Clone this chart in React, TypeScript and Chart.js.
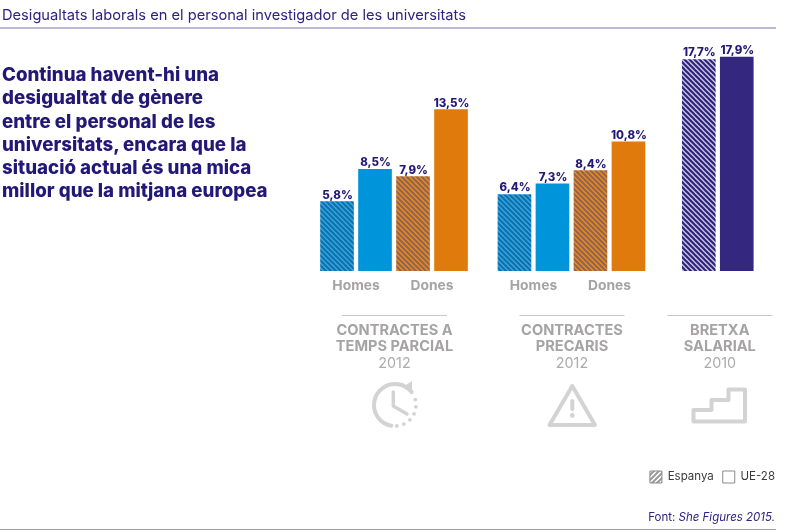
import React, { useEffect, useRef } from "react";
import { Chart, registerables } from "chart.js";

Chart.register(...registerables);

const titleText = "Desigualtats laborals en el personal investigador de les universitats";
const headingLines = [
  "Continua havent-hi una",
  "desigualtat de gènere",
  "entre el personal de les",
  "universitats, encara que la",
  "situació actual és una mica",
  "millor que la mitjana europea",
];
const barCategories = ["Homes", "Dones", "Homes", "Dones", ""];
const espanya = [5.8, 7.9, 6.4, 8.4, 17.7];
const ue28 = [8.5, 13.5, 7.3, 10.8, 17.9];
const groupTitles = [
  ["CONTRACTES A", "TEMPS PARCIAL"],
  ["CONTRACTES", "PRECARIS"],
  ["BRETXA", "SALARIAL"],
];
const groupYears = ["2012", "2012", "2010"];
const seriesNames = ["Espanya", "UE-28"];

const NAVY = "#221878";
const GREY = "#a6a3a5";
const ICON = "#d3d3d4";
const FONT = "Inter, 'Liberation Sans', sans-serif";
const solid = ["#0095da", "#e17a0c", "#0095da", "#e17a0c", "#33277f"];
const hatchPairs = [
  ["#35a4e0", "#0c70ab"],
  ["#ea8a20", "#8f6450"],
  ["#35a4e0", "#0c70ab"],
  ["#ea8a20", "#8f6450"],
  ["#c4c0de", "#2b2079"],
];

// Bars sit one slot apart; extra slot space separates the three groups.
const groupOf = [0, 0, 1, 1, 2];
const groupGap = [0, 0.67, 1.52];
const slotOf = (i: number) => i * 2 + groupGap[groupOf[i]];

function hatch(light: string, dark: string, rising = false): CanvasPattern {
  const size = 5;
  const c = document.createElement("canvas");
  c.width = size;
  c.height = size;
  const g = c.getContext("2d")!;
  g.fillStyle = light;
  g.fillRect(0, 0, size, size);
  g.strokeStyle = dark;
  g.lineWidth = 2;
  if (rising) {
    g.translate(size, 0);
    g.scale(-1, 1);
  }
  for (const o of [-size, 0, size]) {
    g.beginPath();
    g.moveTo(o - 1, -1);
    g.lineTo(o + size + 1, size + 1);
    g.stroke();
  }
  return g.createPattern(c, "repeat")!;
}

const decorations = {
  id: "decorations",
  afterDatasetsDraw(chart: any) {
    const { ctx, scales } = chart;
    const x = scales.x;
    ctx.save();
    ctx.textAlign = "center";
    ctx.textBaseline = "middle";

    // value labels
    ctx.fillStyle = NAVY;
    ctx.font = `800 11.5px ${FONT}`;
    chart.data.datasets.forEach((ds: any, d: number) => {
      chart.getDatasetMeta(d).data.forEach((bar: any, i: number) => {
        const v = String(ds.data[i].y).replace(".", ",") + "%";
        ctx.fillText(v, bar.x + 0.5, bar.y - 6.5);
      });
    });

    // group captions
    groupTitles.forEach((lines, g) => {
      const members = barCategories.map((_, i) => i).filter((i) => groupOf[i] === g);
      const first = slotOf(members[0]);
      const last = slotOf(members[members.length - 1]) + 1;
      const cx = x.getPixelForValue((first + last) / 2) + (g === 2 ? 2 : 0.5);
      ctx.strokeStyle = "#c9c7c9";
      ctx.lineWidth = 1;
      ctx.beginPath();
      ctx.moveTo(cx - 52.5, 315.5);
      ctx.lineTo(cx + 52.5, 315.5);
      ctx.stroke();
      ctx.fillStyle = GREY;
      ctx.font = `700 14.6px ${FONT}`;
      ctx.fillText(lines[0], cx, 331);
      ctx.fillText(lines[1], cx, 347);
      ctx.fillStyle = "#adabad";
      ctx.font = `400 14.3px ${FONT}`;
      ctx.fillText(groupYears[g], cx, 364);
    });

    // icons
    ctx.strokeStyle = ICON;
    ctx.fillStyle = ICON;
    ctx.lineWidth = 4;
    ctx.lineCap = "round";
    ctx.lineJoin = "round";

    ctx.beginPath();
    ctx.arc(395, 405, 21, (100 * Math.PI) / 180, (-38 * Math.PI) / 180);
    ctx.stroke();
    ctx.beginPath();
    ctx.moveTo(403, 387);
    ctx.lineTo(412, 390);
    ctx.lineTo(412, 381);
    ctx.closePath();
    ctx.fill();
    for (const a of [-15, 5, 25, 45, 65, 85]) {
      ctx.beginPath();
      ctx.arc(395 + 21 * Math.cos((a * Math.PI) / 180), 405 + 21 * Math.sin((a * Math.PI) / 180), 1.9, 0, Math.PI * 2);
      ctx.fill();
    }
    ctx.lineWidth = 3.5;
    ctx.beginPath();
    ctx.moveTo(393.3, 392);
    ctx.lineTo(393.3, 406);
    ctx.lineTo(407, 414);
    ctx.stroke();

    ctx.lineWidth = 4;
    ctx.beginPath();
    ctx.moveTo(572.3, 386);
    ctx.lineTo(549.5, 425);
    ctx.lineTo(595, 425);
    ctx.closePath();
    ctx.stroke();
    ctx.beginPath();
    ctx.moveTo(572.3, 401);
    ctx.lineTo(572.3, 409);
    ctx.stroke();
    ctx.beginPath();
    ctx.arc(572.3, 415.5, 2.4, 0, Math.PI * 2);
    ctx.fill();

    ctx.beginPath();
    ctx.moveTo(693.5, 421.5);
    ctx.lineTo(693.5, 410);
    ctx.lineTo(711.5, 410);
    ctx.lineTo(711.5, 400);
    ctx.lineTo(728.5, 400);
    ctx.lineTo(728.5, 389.5);
    ctx.lineTo(745, 389.5);
    ctx.lineTo(745, 421.5);
    ctx.closePath();
    ctx.stroke();
    ctx.restore();
  },
};

export default function App() {
  const ref = useRef<HTMLCanvasElement>(null);

  useEffect(() => {
    document.body.style.margin = "0";
    const patterns = hatchPairs.map(([a, b]) => hatch(a, b));
    const legendHatch = hatch("#ffffff", "#9a989a", true);
    const tickSlots = barCategories
      .map((name, i) => ({ name, value: slotOf(i) + 0.5 }))
      .filter((t) => t.name);

    const chart = new Chart(ref.current!, {
      type: "bar",
      data: {
        datasets: [
          {
            label: seriesNames[0],
            data: espanya.map((y, i) => ({ x: slotOf(i), y })),
            backgroundColor: patterns,
            borderWidth: 0,
            barThickness: 33,
            grouped: false,
          },
          {
            label: seriesNames[1],
            data: ue28.map((y, i) => ({ x: slotOf(i) + 1, y })),
            backgroundColor: solid,
            borderWidth: 0,
            barThickness: 33,
            grouped: false,
          },
        ],
      } as any,
      options: {
        responsive: false,
        animation: false,
        layout: { padding: { left: 300, right: 16, top: 32, bottom: 37 } },
        scales: {
          x: {
            type: "linear",
            offset: false,
            min: -0.974,
            max: 11.763,
            grid: { display: false },
            border: { display: false },
            afterBuildTicks(scale: any) {
              scale.ticks = tickSlots.map((t) => ({ value: t.value }));
            },
            afterFit(scale: any) {
              scale.height = 191;
            },
            ticks: {
              autoSkip: false,
              maxRotation: 0,
              padding: -1,
              color: GREY,
              font: { family: FONT, weight: 700, size: 13.8 },
              callback: (v: any) => tickSlots.find((t) => t.value === v)?.name ?? "",
            },
          },
          y: { display: false, min: 0, max: 20 },
        },
        plugins: {
          tooltip: { enabled: false },
          legend: {
            position: "bottom",
            align: "end",
            labels: {
              boxWidth: 12,
              boxHeight: 12,
              padding: 9,
              color: "#3a3a3c",
              font: { family: FONT, size: 11.5 },
              generateLabels: () =>
                seriesNames.map((text, i) => ({
                  text,
                  fillStyle: i === 0 ? legendHatch : "#ffffff",
                  strokeStyle: "#8d8b8d",
                  lineWidth: 1,
                  fontColor: "#3a3a3c",
                  datasetIndex: i,
                })),
            },
          },
        },
      } as any,
      plugins: [decorations] as any,
    });
    return () => chart.destroy();
  }, []);

  return (
    <div style={{ position: "absolute", left: 0, top: 0, width: 800, height: 530, background: "#fff", overflow: "hidden" }}>
      <canvas ref={ref} width={800} height={530} style={{ position: "absolute", left: 0, top: 0 }} />
      <div style={{ position: "absolute", left: 2, top: 5, font: `400 14.65px/20px ${FONT}`, color: "#2c2280", whiteSpace: "nowrap" }}>
        {titleText}
      </div>
      <div style={{ position: "absolute", left: 0, top: 27, width: 776, height: 2, background: "#bdb9d6" }} />
      <div style={{ position: "absolute", left: 2, top: 63, font: `800 18.7px/23.3px ${FONT}`, color: NAVY, whiteSpace: "nowrap" }}>
        {headingLines.map((l) => (
          <div key={l}>{l}</div>
        ))}
      </div>
      <div style={{ position: "absolute", right: 25, top: 509, font: `400 11.5px/16px ${FONT}`, color: "#2c2280", whiteSpace: "nowrap" }}>
        Font: <i>She Figures 2015.</i>
      </div>
      <div style={{ position: "absolute", left: 0, top: 529, width: 776, height: 1, background: "#9d97c4" }} />
    </div>
  );
}
